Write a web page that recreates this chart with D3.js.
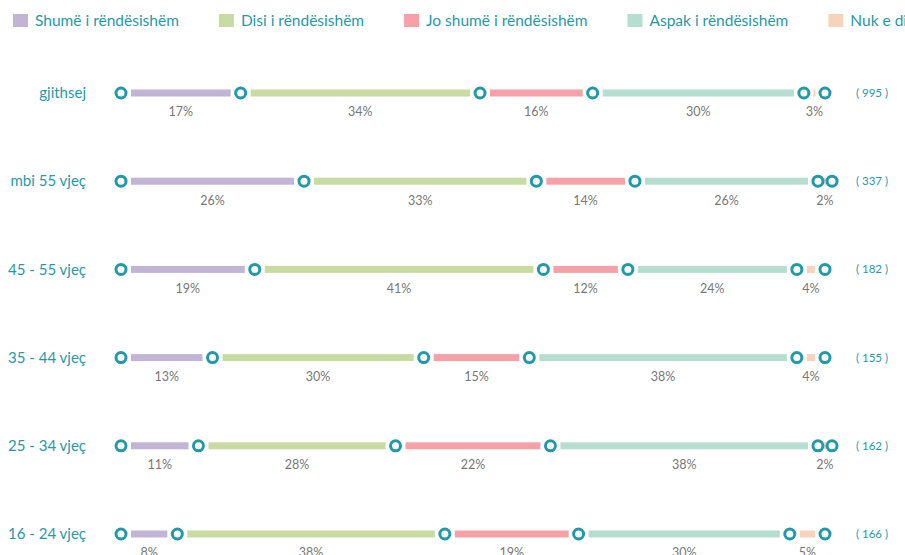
<!DOCTYPE html>
<html>
<head>
<meta charset="utf-8">
<script src="https://cdn.jsdelivr.net/npm/d3@7"></script>
<style>
  html, body { margin: 0; padding: 0; background: #fff; overflow: hidden; }
  svg { display: block; font-family: Lato, "Noto Sans", sans-serif; }
</style>
</head>
<body>
<svg id="chart" width="905" height="555"></svg>
<script>
// rows, top to bottom
var categories = ['gjithsej', 'mbi 55 vjeç', '45 - 55 vjeç', '35 - 44 vjeç', '25 - 34 vjeç', '16 - 24 vjeç'];
var responses = ['Shumë i rëndësishëm', 'Disi i rëndësishëm', 'Jo shumë i rëndësishëm', 'Aspak i rëndësishëm', 'Nuk e di'];

// percent per row, one array per response
var shume = [17, 26, 19, 13, 11, 8];
var disi = [34, 33, 41, 30, 28, 38];
var joShume = [16, 14, 12, 15, 22, 19];
var aspak = [30, 26, 24, 38, 38, 30];
var nukEDi = [3, 2, 4, 4, 2, 5];

// respondents per row
var counts = [995, 337, 182, 155, 162, 166];

var colors = ['#c1b4d4', '#c8dba2', '#f6a1a7', '#b5ddd0', '#f6d3ba'];
var teal = '#1f9aab';

var svg = d3.select('#chart');

var x = d3.scaleLinear().domain([0, 100]).range([121, 825]);
var y = d3.scalePoint().domain(categories).range([93, 534]);
var color = d3.scaleOrdinal().domain(responses).range(colors);

var series = [shume, disi, joShume, aspak, nukEDi];
var rows = categories.map(function (c, i) {
    var acc = 0;
    var segs = series.map(function (s, j) {
        var seg = {cat: c, key: responses[j], v: s[i], x0: acc, x1: acc + s[i]};
        acc += s[i];
        return seg;
    });
    return {cat: c, n: counts[i], segs: segs};
});

// legend, laid out by text width
var legend = svg.append('g').attr('class', 'legend');
var lx = 13;
responses.forEach(function (r) {
    var item = legend.append('g').attr('transform', 'translate(' + lx + ',0)');
    item.append('rect')
        .attr('x', 0).attr('y', 14)
        .attr('width', 15).attr('height', 13)
        .attr('fill', color(r));
    var t = item.append('text')
        .attr('x', 22).attr('y', 26)
        .attr('fill', teal)
        .attr('font-size', 15.5)
        .text(r);
    lx += 22 + t.node().getComputedTextLength() + 40;
});

var row = svg.selectAll('g.row')
    .data(rows)
    .enter()
    .append('g')
    .classed('row', true)
    .attr('transform', function (d) { return 'translate(0,' + y(d.cat) + ')'; });

row.append('text')
    .attr('x', 86)
    .attr('dy', '0.35em')
    .attr('text-anchor', 'end')
    .attr('fill', teal)
    .attr('font-size', 15)
    .text(function (d) { return d.cat; });

row.append('text')
    .attr('x', 856)
    .attr('dy', '0.35em')
    .attr('fill', teal)
    .attr('font-size', 11.5)
    .text(function (d) { return '( ' + d.n + ' )'; });

var seg = row.selectAll('g.seg')
    .data(function (d) { return d.segs; })
    .enter()
    .append('g')
    .classed('seg', true);

seg.append('rect')
    .attr('x', function (d) { return x(d.x0) + inset(d); })
    .attr('y', -3.5)
    .attr('width', function (d) { return Math.max(0, x(d.x1) - x(d.x0) - 2 * inset(d)); })
    .attr('height', 7)
    .attr('fill', function (d) { return color(d.key); });

seg.append('text')
    .attr('x', function (d) { return (x(d.x0) + x(d.x1)) / 2; })
    .attr('y', 19)
    .attr('dy', '0.35em')
    .attr('text-anchor', 'middle')
    .attr('fill', '#777')
    .attr('font-size', 12.5)
    .text(function (d) { return d.v + '%'; });

// knobs at every boundary
row.selectAll('circle')
    .data(function (d) { return [0].concat(d.segs.map(function (s) { return s.x1; })); })
    .enter()
    .append('circle')
    .attr('cx', function (d) { return x(d); })
    .attr('cy', 0)
    .attr('r', 5)
    .attr('fill', '#fff')
    .attr('stroke', teal)
    .attr('stroke-width', 3);

function inset(d) {
    var w = x(d.x1) - x(d.x0);
    return Math.min(10, w / 2 - 1);
}
</script>
</body>
</html>
